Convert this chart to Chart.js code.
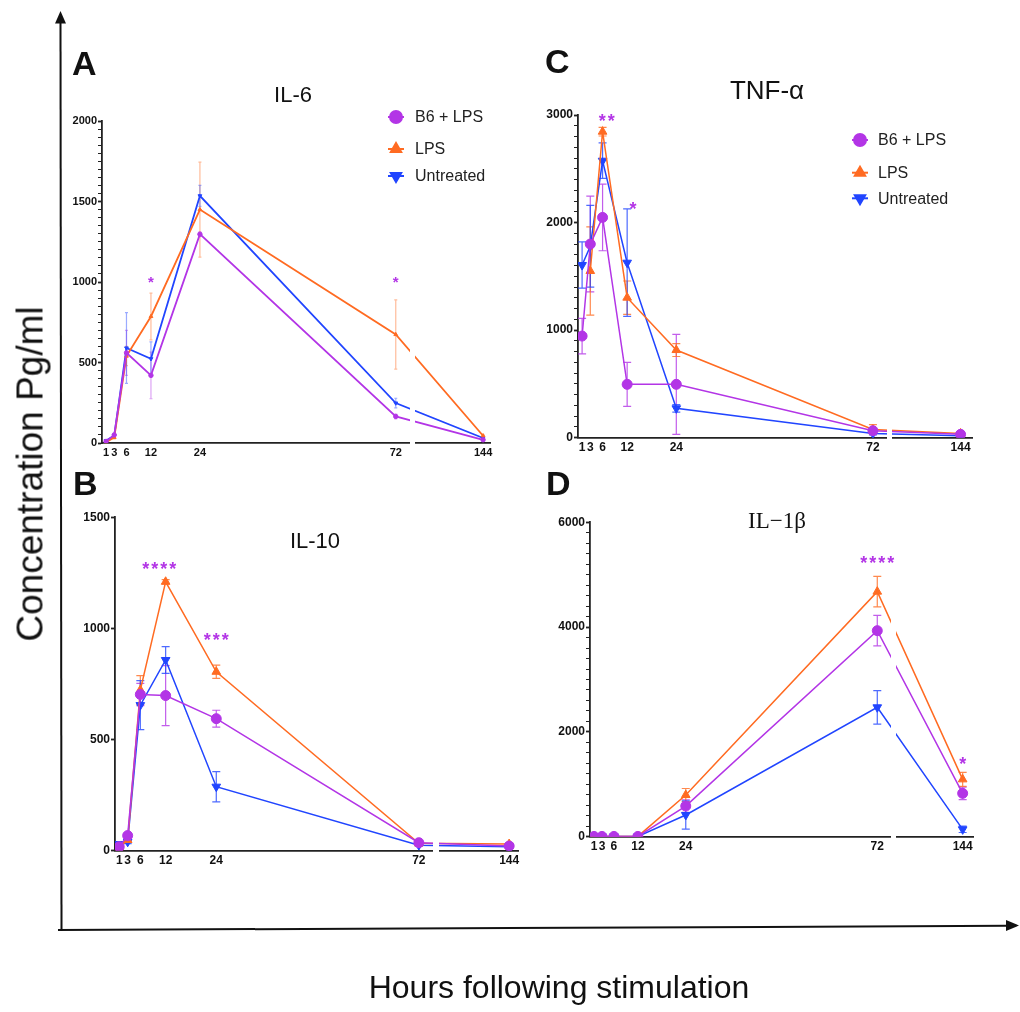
<!DOCTYPE html>
<html>
<head>
<meta charset="utf-8">
<script src="https://cdn.jsdelivr.net/npm/chart.js@4.4.1/dist/chart.umd.min.js"></script>
<style>
html, body { margin: 0; padding: 0; background: #fff; }
#page { position: relative; width: 1020px; height: 1012px; overflow: hidden; font-family: "Liberation Sans", Arial, sans-serif; color: #111; }
canvas, svg { position: absolute; left: 0; top: 0; }
.ylab { position: absolute; left: 30px; top: 474px; transform: translate(-50%, -50%) rotate(-90deg); font-size: 37px; line-height: 1; white-space: nowrap; }
.xlab { position: absolute; left: 559px; top: 971px; transform: translateX(-50%); font-size: 32px; line-height: 1; white-space: nowrap; }
</style>
</head>
<body>
<div id="page">
  <svg width="1020" height="1012">
    <line x1="60.5" y1="22" x2="61.5" y2="931" stroke="#111" stroke-width="2"/>
    <polygon points="60.5,11 55,23.5 66,23.5" fill="#111"/>
    <line x1="58" y1="930" x2="1008" y2="925.8" stroke="#111" stroke-width="2"/>
    <polygon points="1019,925.5 1006,920 1006,931" fill="#111"/>
  </svg>
  <canvas id="chartA" width="1020" height="1012"></canvas>
  <canvas id="chartB" width="1020" height="1012"></canvas>
  <canvas id="chartC" width="1020" height="1012"></canvas>
  <canvas id="chartD" width="1020" height="1012"></canvas>
  <div class="ylab">Concentration Pg/ml</div>
  <div class="xlab">Hours following stimulation</div>
</div>
<script>
const W = 1020, H = 1012;

// time points and axis labels
const hours = [1, 3, 6, 12, 24, 72, 144];
const xTickLabels = ['1', '3', '6', '12', '24', '72', '144'];
const seriesNames = ['B6 + LPS', 'LPS', 'Untreated'];
const seriesColors = ['#b335e6', '#ff6b22', '#2145ff'];

// IL-6 (A)
const il6B6 = [10, 50, 560, 420, 1297, 165, 20];
const il6Lps = [5, 35, 540, 786, 1450, 674, 45];
const il6Untreated = [15, 45, 590, 523, 1535, 248, 31];
const il6B6Err = [5, 10, 140, 145, 15, 15, 5];
const il6LpsErr = [5, 10, 60, 145, 295, 215, 5];
const il6UntreatedErr = [5, 10, 220, 105, 65, 30, 5];
const il6SigHours = [12, 72];
const il6SigValues = [1020, 1020];
const il6SigText = ['*', '*'];

// IL-10 (B)
const il10B6 = [18, 68, 703, 698, 594, 36, 21];
const il10Lps = [15, 48, 723, 1210, 805, 33, 30];
const il10Untreated = [30, 40, 655, 858, 288, 25, 18];
const il10B6Err = [5, 10, 50, 135, 38, 8, 5];
const il10LpsErr = [5, 8, 65, 10, 30, 8, 5];
const il10UntreatedErr = [5, 8, 110, 60, 68, 5, 5];
const il10SigHours = [10.5, 24];
const il10SigValues = [1288, 968];
const il10SigText = ['****', '***'];

// TNF-a (C)
const tnfB6 = [945, 1800, 2048, 496, 496, 65, 31];
const tnfLps = [null, 1550, 2845, 1302, 815, 77, 40];
const tnfUntreated = [1605, 1780, 2575, 1627, 273, 40, 19];
const tnfB6Err = [165, 445, 310, 205, 465, 20, 10];
const tnfLpsErr = [0, 410, 40, 155, 60, 45, 10];
const tnfUntreatedErr = [215, 380, 165, 500, 35, 15, 5];
const tnfSigHours = [7, 13.4];
const tnfSigValues = [2990, 2170];
const tnfSigText = ['**', '*'];

// IL-1b (D)
const il1bB6 = [5, 5, 5, 5, 585, 3932, 827];
const il1bLps = [5, 5, 5, 5, 795, 4677, 1094];
const il1bUntreated = [5, 5, 5, 5, 414, 2469, 140];
const il1bB6Err = [0, 0, 0, 0, 120, 290, 120];
const il1bLpsErr = [0, 0, 0, 0, 125, 290, 135];
const il1bUntreatedErr = [0, 0, 0, 0, 270, 320, 60];
const il1bSigHours = [72, 144];
const il1bSigValues = [5313, 1463];
const il1bSigText = ['****', '*'];

// broken x axis: 0..72 linear, then a gap, then 144
const POS_144 = 93.4;
const BREAK_FROM = 75.4, BREAK_TO = 76.7;
function axisPos(h) {
    return h <= 72 ? h : POS_144;
}

const pointStyles = ['circle', 'triangle', 'triangle'];
const pointRotations = [0, 0, 180];
const FONT = '"Liberation Sans", Arial, sans-serif';

const panels = [
    {
        canvas: 'chartA', letter: 'A', letterX: 72, letterY: 75,
        title: 'IL-6', titleX: 293, titleY: 101.5, titleFont: '22px ' + FONT,
        geom: { left: 102, top: 121, bottom: 443, pph: 4.08, xMax: 95.2 },
        yMax: 2000, yMajor: 500, yMinor: 50, tickFont: 11,
        series: [il6B6, il6Lps, il6Untreated],
        errors: [il6B6Err, il6LpsErr, il6UntreatedErr],
        sig: [il6SigHours, il6SigValues, il6SigText], sigFont: 15,
        pointRadius: 2.2, lineWidth: 1.8, errAlpha: 0.45, cap: 1.5,
        legend: { x: 396, textX: 415, ys: [117, 149, 176] }
    },
    {
        canvas: 'chartB', letter: 'B', letterX: 73, letterY: 495,
        title: 'IL-10', titleX: 315, titleY: 548.3, titleFont: '22px ' + FONT,
        geom: { left: 115, top: 517.3, bottom: 850.7, pph: 4.22, xMax: 95.5 },
        yMax: 1500, yMajor: 500, yMinor: 500, tickFont: 12,
        series: [il10B6, il10Lps, il10Untreated],
        errors: [il10B6Err, il10LpsErr, il10UntreatedErr],
        sig: [il10SigHours, il10SigValues, il10SigText], sigFont: 18,
        pointRadius: 5, lineWidth: 1.5, errAlpha: 0.8, cap: 4,
        legend: null
    },
    {
        canvas: 'chartC', letter: 'C', letterX: 545, letterY: 73,
        title: 'TNF-α', titleX: 767, titleY: 99, titleFont: '26px ' + FONT,
        geom: { left: 578, top: 115, bottom: 437.7, pph: 4.096, xMax: 96.4 },
        yMax: 3000, yMajor: 1000, yMinor: 100, tickFont: 12,
        series: [tnfB6, tnfLps, tnfUntreated],
        errors: [tnfB6Err, tnfLpsErr, tnfUntreatedErr],
        sig: [tnfSigHours, tnfSigValues, tnfSigText], sigFont: 18,
        pointRadius: 5, lineWidth: 1.5, errAlpha: 0.8, cap: 4,
        legend: { x: 860, textX: 878, ys: [140, 172.7, 198.3] }
    },
    {
        canvas: 'chartD', letter: 'D', letterX: 546, letterY: 495,
        title: 'IL\u22121β', titleX: 777, titleY: 528, titleFont: '23px "Liberation Serif", serif',
        geom: { left: 590, top: 522.3, bottom: 836.7, pph: 3.99, xMax: 96.1 },
        yMax: 6000, yMajor: 2000, yMinor: 200, tickFont: 12,
        series: [il1bB6, il1bLps, il1bUntreated],
        errors: [il1bB6Err, il1bLpsErr, il1bUntreatedErr],
        sig: [il1bSigHours, il1bSigValues, il1bSigText], sigFont: 18,
        pointRadius: 5, lineWidth: 1.5, errAlpha: 0.8, cap: 4,
        legend: null
    }
];

// vertical error bars, drawn under the markers
const errorBars = {
    id: 'errorBars',
    beforeDatasetsDraw(chart) {
        const p = chart.options.panel;
        const ctx = chart.ctx;
        const xs = chart.scales.x, ys = chart.scales.y;
        ctx.save();
        ctx.globalAlpha = p.errAlpha;
        ctx.lineWidth = 1.2;
        chart.data.datasets.forEach((ds, i) => {
            ctx.strokeStyle = seriesColors[i];
            ds.data.forEach((pt, j) => {
                const e = p.errors[i][j];
                if (!e || pt.y == null) return;
                const x = xs.getPixelForValue(pt.x);
                const yLo = ys.getPixelForValue(Math.max(0, pt.y - e));
                const yHi = ys.getPixelForValue(pt.y + e);
                ctx.beginPath();
                ctx.moveTo(x, yLo); ctx.lineTo(x, yHi);
                ctx.moveTo(x - p.cap, yLo); ctx.lineTo(x + p.cap, yLo);
                ctx.moveTo(x - p.cap, yHi); ctx.lineTo(x + p.cap, yHi);
                ctx.stroke();
            });
        });
        ctx.restore();
    }
};

// axis break, letters, titles, legends and significance stars
const panelDecor = {
    id: 'panelDecor',
    afterDatasetsDraw(chart) {
        const xs = chart.scales.x, area = chart.chartArea;
        const x1 = xs.getPixelForValue(BREAK_FROM), x2 = xs.getPixelForValue(BREAK_TO);
        chart.ctx.clearRect(x1, area.top - 4, x2 - x1, area.bottom - area.top + 7);
    },
    afterDraw(chart) {
        const p = chart.options.panel;
        const ctx = chart.ctx;
        const xs = chart.scales.x, ys = chart.scales.y;
        ctx.save();
        ctx.fillStyle = '#111';
        ctx.textBaseline = 'alphabetic';
        ctx.textAlign = 'left';
        ctx.font = 'bold 34px ' + FONT;
        ctx.fillText(p.letter, p.letterX, p.letterY);

        ctx.textAlign = 'center';
        ctx.font = p.titleFont;
        ctx.fillText(p.title, p.titleX, p.titleY);

        // stars
        const [sh, sv, st] = p.sig;
        ctx.fillStyle = seriesColors[0];
        ctx.font = 'bold ' + p.sigFont + 'px ' + FONT;
        ctx.letterSpacing = '2px';
        sh.forEach((h, k) => {
            const x = xs.getPixelForValue(axisPos(h)) + 1;
            const y = ys.getPixelForValue(sv[k]) + p.sigFont * 0.58;
            ctx.fillText(st[k], x, y);
        });
        ctx.letterSpacing = '0px';

        if (p.legend) {
            const lg = p.legend;
            seriesNames.forEach((name, i) => {
                const y = lg.ys[i];
                ctx.strokeStyle = seriesColors[i];
                ctx.fillStyle = seriesColors[i];
                ctx.lineWidth = 2;
                ctx.beginPath();
                ctx.moveTo(lg.x - 8, y); ctx.lineTo(lg.x + 8, y);
                ctx.stroke();
                Chart.helpers.drawPoint(ctx, {
                    pointStyle: pointStyles[i], rotation: pointRotations[i],
                    radius: 6, borderWidth: 1
                }, lg.x, y);
                ctx.fillStyle = '#222';
                ctx.textAlign = 'left';
                ctx.textBaseline = 'middle';
                ctx.font = '16px ' + FONT;
                ctx.fillText(name, lg.textX, y + 1);
            });
        }
        ctx.restore();
    }
};

function makeChart(p) {
    const g = p.geom;
    const right = g.left + g.xMax * g.pph;
    const yAxisW = 45, xAxisH = 22;

    const datasets = p.series.map((vals, i) => ({
        label: seriesNames[i],
        data: hours.map((h, j) => ({ x: axisPos(h), y: vals[j] })),
        borderColor: seriesColors[i],
        backgroundColor: seriesColors[i],
        borderWidth: p.lineWidth,
        pointStyle: pointStyles[i],
        pointRotation: pointRotations[i],
        pointRadius: p.pointRadius,
        pointBorderWidth: 1,
        tension: 0
    }));

    new Chart(document.getElementById(p.canvas), {
        type: 'line',
        data: { datasets: datasets },
        plugins: [errorBars, panelDecor],
        options: {
            panel: p,
            responsive: false,
            animation: false,
            events: [],
            layout: {
                padding: { left: g.left - yAxisW, top: g.top, right: W - right, bottom: H - g.bottom - xAxisH }
            },
            plugins: { legend: { display: false }, tooltip: { enabled: false } },
            scales: {
                x: {
                    type: 'linear',
                    min: 0,
                    max: g.xMax,
                    afterBuildTicks: s => { s.ticks = hours.map(h => ({ value: axisPos(h) })); },
                    afterFit: s => { s.height = xAxisH; s.paddingLeft = 0; s.paddingRight = 0; },
                    ticks: {
                        autoSkip: false, maxRotation: 0, minRotation: 0, padding: 3,
                        color: '#111',
                        font: { family: FONT, size: p.tickFont, weight: 'bold' },
                        callback: (v, i) => xTickLabels[i]
                    },
                    grid: { display: false, drawTicks: false },
                    border: { display: true, color: '#222', width: 1.8 }
                },
                y: {
                    min: 0,
                    max: p.yMax,
                    afterBuildTicks: s => {
                        const t = [];
                        for (let v = 0; v <= p.yMax; v += p.yMinor) t.push({ value: v });
                        s.ticks = t;
                    },
                    afterFit: s => { s.width = yAxisW; },
                    ticks: {
                        autoSkip: false, padding: 1,
                        color: '#111',
                        font: { family: FONT, size: p.tickFont, weight: 'bold' },
                        callback: v => (v % p.yMajor === 0 ? String(v) : '')
                    },
                    grid: {
                        drawOnChartArea: false, drawTicks: true, tickLength: 4,
                        tickColor: '#222',
                        tickWidth: c => (c.tick && c.tick.value % p.yMajor === 0 ? 1.8 : 1)
                    },
                    border: { display: true, color: '#222', width: 1.8 }
                }
            }
        }
    });
}

panels.forEach(makeChart);
</script>
</body>
</html>
